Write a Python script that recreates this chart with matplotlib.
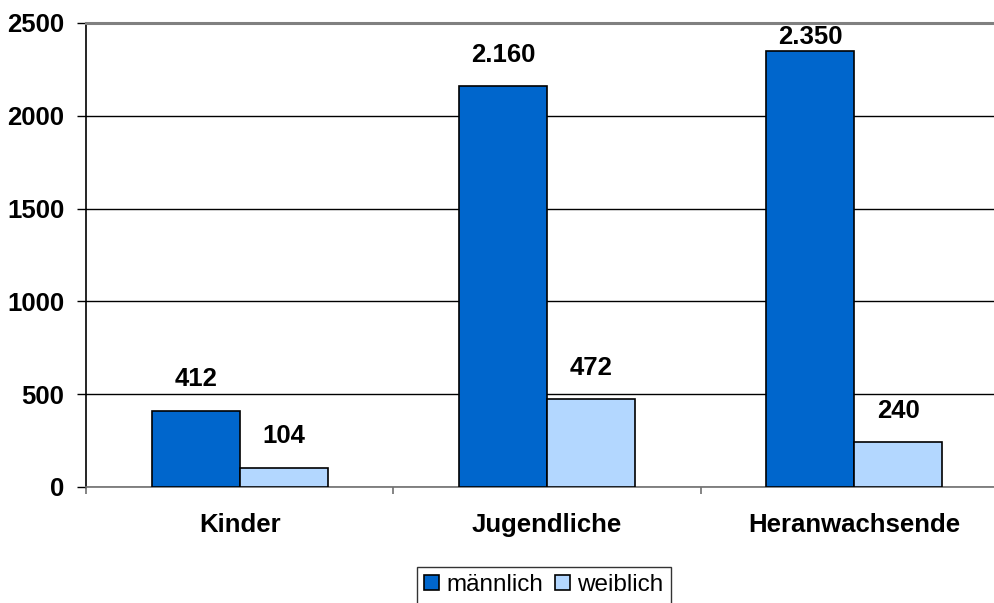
import matplotlib
matplotlib.use("Agg")
import matplotlib.pyplot as plt
import numpy as np
from matplotlib.patches import Patch

plt.rcParams["font.family"] = ["Liberation Sans", "DejaVu Sans"]

# ── Data ──────────────────────────────────────────────────────────────────────
categories = ["Kinder", "Jugendliche", "Heranwachsende"]
maennlich  = [412, 2160, 2350]
weiblich   = [104, 472, 240]
series_names  = ["männlich", "weiblich"]
series_colors = ["#0066CC", "#B3D7FF"]
y_ticks = [0, 500, 1000, 1500, 2000, 2500]


def fmt_de(v):
    return f"{v:,}".replace(",", ".")


fig = plt.figure(figsize=(9.95, 6.03), dpi=100)
ax = fig.add_axes([86 / 995, 116 / 603, 922 / 995, 464 / 603])

x = np.arange(len(categories))
bw = 0.2866
fs = 18.5

for vals, off, col in [(maennlich, -bw / 2, series_colors[0]),
                       (weiblich, bw / 2, series_colors[1])]:
    bars = ax.bar(x + off, vals, width=bw, color=col, edgecolor="black",
                  linewidth=1.2, zorder=3)
    for b, v in zip(bars, vals):
        # labels near the top of the plot are pulled down to stay inside
        dy = 1 if v > 2300 else 14
        ax.annotate(fmt_de(v), (b.get_x() + b.get_width() / 2, v),
                    xytext=(0, dy), textcoords="offset points",
                    ha="center", va="bottom", fontsize=fs,
                    fontweight="bold", zorder=4)

ax.set_xlim(-0.5, len(categories) - 0.5)
ax.set_ylim(0, 2500)
ax.set_yticks(y_ticks)
ax.set_yticklabels([str(t) for t in y_ticks])
ax.yaxis.grid(True, color="black", linewidth=1.0, zorder=0)
ax.set_axisbelow(True)

ax.set_xticks(x)
ax.set_xticklabels(categories)
ax.set_xticks(np.arange(len(categories) + 1) - 0.5, minor=True)
ax.tick_params(axis="x", which="major", length=0, pad=19)
ax.tick_params(axis="x", which="minor", length=5, color="#707070", width=1.2)
ax.tick_params(axis="y", length=6.5, width=1.0, pad=9)
for lbl in ax.get_xticklabels() + ax.get_yticklabels():
    lbl.set_fontsize(fs)
    lbl.set_fontweight("bold")

ax.spines["left"].set_linewidth(1.2)
ax.spines["bottom"].set_color("#707070")
ax.spines["bottom"].set_linewidth(1.2)
ax.spines["top"].set_color("#808080")
ax.spines["top"].set_linewidth(2.2)
ax.spines["right"].set_visible(False)

handles = [Patch(facecolor=c, edgecolor="black", linewidth=1.2)
           for c in series_colors]
leg = fig.legend(handles, series_names, loc="upper center",
                 bbox_to_anchor=(544 / 995, 1 - 567 / 603),
                 ncol=2, fontsize=17.5, frameon=True, fancybox=False,
                 handlelength=0.6, handleheight=0.6, handletextpad=0.3,
                 columnspacing=0.5, borderpad=0.3, borderaxespad=0)
leg.get_frame().set_edgecolor("black")
leg.get_frame().set_linewidth(1.0)

fig.savefig("out.png", dpi=100)
